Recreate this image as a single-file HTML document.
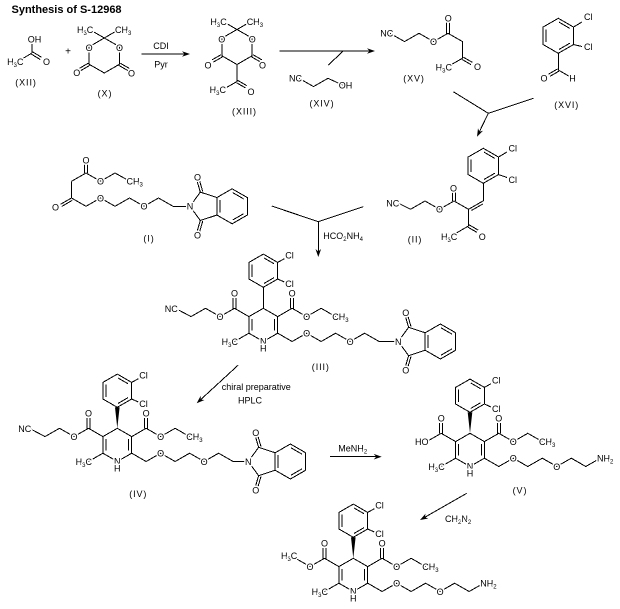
<!DOCTYPE html>
<html><head><meta charset="utf-8"><style>
body{margin:0;background:#fff}
svg{display:block}
.s path,.s polyline,.s polygon,.s line{fill:none;stroke:#000;stroke-width:1;shape-rendering:crispEdges}
.s .f{fill:#000;stroke:none;shape-rendering:auto}
.s text{font-family:"Liberation Sans",Arial,sans-serif;font-size:9px;fill:#000;stroke:#fff;stroke-width:3px;paint-order:stroke;stroke-linejoin:round}
.s .m{text-anchor:middle}
.s .e{text-anchor:end}
.s .lb{letter-spacing:0.9px}
.s .t{font-size:11px;font-weight:bold;stroke:none}
</style></head><body>
<svg class="s" width="620" height="609" viewBox="0 0 620 609" xmlns="http://www.w3.org/2000/svg">
<rect width="620" height="609" fill="#fff"/>
<text class="t" x="11.5" y="13">Synthesis of S-12968</text>

<!-- (XII) acetic acid -->
<path d="M32,53V44M32,53L22,59M31.33,54.11L40.33,59.56M32.67,51.89L41.67,57.34"/>
<text x="27.8" y="42.5">OH</text>
<text class="e" x="23.5" y="65">H<tspan font-size="6" dy="2">3</tspan><tspan dy="-2">C</tspan></text>
<text class="m" x="46.5" y="65">O</text>
<text class="m lb" x="26" y="85.3">(XII)</text>
<text class="m" x="68" y="54.5" style="font-size:10px">+</text>

<!-- (X) Meldrum's acid -->
<polygon points="104.3,38 119.5,46.75 119.5,64.25 104.3,73 89.1,64.25 89.1,46.75"/>
<path d="M104.3,38L91.5,30.6M104.3,38L117,30.6M89.75,65.38L80.65,70.63M88.45,63.12L79.35,68.37M118.85,65.38L127.95,70.63M120.15,63.12L129.25,68.37"/>
<text class="e" x="93.3" y="33">H<tspan font-size="6" dy="2">3</tspan><tspan dy="-2">C</tspan></text>
<text x="115" y="33">CH<tspan font-size="6" dy="2">3</tspan></text>
<text class="m" x="89.1" y="51">O</text><text class="m" x="119.5" y="51">O</text>
<text class="m" x="76.8" y="75.8">O</text><text class="m" x="131.5" y="76.3">O</text>
<text class="m lb" x="105" y="96.3">(X)</text>

<!-- arrow CDI -->
<path d="M141.7,54H185"/>
<polygon class="f" points="190,54 182,51.2 184.5,54 182,56.8"/>
<text class="m" x="161" y="49.2">CDI</text>
<text class="m" x="161" y="67.5">Pyr</text>

<!-- (XIII) -->
<polygon points="237,29.5 252.2,38.25 252.2,55.75 237,64.5 221.8,55.75 221.8,38.25"/>
<path d="M237,29.5L224.5,22.3M237,29.5L249.5,22.3M222.45,56.88L213.35,62.13M221.15,54.62L212.05,59.87M251.55,56.88L260.65,62.13M252.85,54.62L261.95,59.87M237,64.5V81.5L225,88.4M236.35,82.63L245.45,87.88M237.65,80.37L246.75,85.62"/>
<text class="e" x="226.7" y="25">H<tspan font-size="6" dy="2">3</tspan><tspan dy="-2">C</tspan></text>
<text x="246.7" y="25">CH<tspan font-size="6" dy="2">3</tspan></text>
<text class="m" x="221.8" y="42.5">O</text><text class="m" x="252.2" y="42.5">O</text>
<text class="m" x="208" y="68.3">O</text><text class="m" x="262.5" y="68.3">O</text>
<text class="e" x="226" y="93">H<tspan font-size="6" dy="2">3</tspan><tspan dy="-2">C</tspan></text>
<text class="m" x="251" y="95">O</text>
<text class="m lb" x="244.5" y="114.5">(XIII)</text>

<!-- arrow 2 with (XIV) -->
<path d="M279.3,51H370M343.3,51L328.3,65"/>
<polygon class="f" points="375,51 367,48.2 369.5,51 367,53.8"/>
<polyline points="299,78.3 313.5,86.6 328,78.3 342.5,85"/>
<text class="e" x="302" y="81.7">NC</text>
<text x="338.8" y="88.3">OH</text>
<text class="m lb" x="322" y="106.5">(XIV)</text>

<!-- (XV) -->
<polyline points="390,33.3 404.5,41.6 419,33.3 433.5,41.6 448,33.3 462.5,41.6 462.5,58.2 451,64.8"/>
<path d="M446.7,33.3V22.5M449.3,33.3V22.5M461.85,59.33L470.95,64.58M463.15,57.07L472.25,62.32"/>
<text class="e" x="393.3" y="36.6">NC</text>
<text class="m" x="433.5" y="44.9">O</text>
<text class="m" x="448.3" y="21.6">O</text>
<text class="e" x="452" y="70.3">H<tspan font-size="6" dy="2">3</tspan><tspan dy="-2">C</tspan></text>
<text class="m" x="477.5" y="70">O</text>
<text class="m lb" x="414" y="81.7">(XV)</text>

<!-- (XVI) -->
<polygon points="558.3,18.3 573.5,27.05 573.5,44.55 558.3,53.3 543.1,44.55 543.1,27.05"/>
<path d="M546.1,29.5V42.1M558.97,22.15L569.83,28.4M569.83,43.2L558.97,49.45M573.5,27.05L582,22M573.5,44.55L582,46.5M558.3,53.3V70L568.5,75.9M558.95,71.13L549.85,76.38M557.65,68.87L548.55,74.12"/>
<text x="584" y="20">Cl</text><text x="584" y="50">Cl</text>
<text class="m" x="544" y="81.6">O</text><text class="m" x="572.5" y="81.6">H</text>
<text class="m lb" x="566.7" y="108">(XVI)</text>

<!-- converging arrow 1 -->
<path d="M453.3,91.7L488.3,113.3M533.3,98.3L488.3,113.3L479.4,131.7"/>
<polygon class="f" points="477,136.7 483,130.7 479.4,131.75 478,128.3"/>

<!-- (II) -->
<polygon points="483.3,148.3 498.5,157.05 498.5,174.55 483.3,183.3 468.1,174.55 468.1,157.05"/>
<path d="M471.1,159.5V172.1M483.97,152.15L494.83,158.4M494.83,173.2L483.97,179.45M498.5,157.05L507,152M498.5,174.55L507,177.5M483.3,183.3V200.8L468.5,209.3M482.82,203.97L471.48,210.47M468.5,209.3L454,201M452.7,201V192.5M455.3,201V192.5M468.5,209.3V226L455.5,233.5M467.85,227.13L476.95,232.38M469.15,224.87L478.25,230.12"/>
<polyline points="454,201 439.5,209.3 425,201 410.5,209.3 397,202.5"/>
<text x="508.5" y="151.7">Cl</text><text x="508.5" y="183">Cl</text>
<text class="m" x="453.5" y="191.6">O</text>
<text class="m" x="439.5" y="212.6">O</text>
<text class="e" x="399.3" y="206.5">NC</text>
<text class="e" x="457.3" y="240">H<tspan font-size="6" dy="2">3</tspan><tspan dy="-2">C</tspan></text>
<text class="m" x="482.3" y="240">O</text>
<text class="m lb" x="415" y="242.5">(II)</text>

<!-- (I) -->
<path d="M84.5,173V164.5M87.5,173V164.5M71.5,181.3L86,173L100.5,181.3L115,173L128.5,180.5M71.5,181.3V198M71.5,198L60.5,204.3M72.2,200.4L61.8,206.4"/>
<polyline points="71.5,198 86,206.3 100.5,198 115,206.3 129.5,198 144,206.3 158.5,198 173,206.3 190,206.3"/>
<text class="m" x="86" y="163.3">O</text>
<text class="m" x="100.5" y="184.6">O</text>
<text x="126.5" y="184.6">CH<tspan font-size="6" dy="2">3</tspan></text>
<text class="m" x="55.5" y="210.5">O</text>
<text class="m" x="100.5" y="201.3">O</text>
<text class="m" x="144" y="209.6">O</text>
<g transform="translate(190,206.3)">
<path d="M0,0L10.3,-14.2L26.9,-8.75V8.75L10.3,14.2Z M10.3,-14.2L7.3,-24.5M12.7,-14.9L9.7,-25.2M10.3,14.2L7.3,24.5M12.7,14.9L9.7,25.2M29.9,-6.3V6.3M42.77,-13.65L53.63,-7.4M53.63,7.4L42.77,13.65"/>
<polygon points="26.9,-8.75 42.1,-17.5 57.3,-8.75 57.3,8.75 42.1,17.5 26.9,8.75"/>
<text class="m" x="0" y="3.3">N</text><text class="m" x="7.5" y="-25.6">O</text><text class="m" x="7.5" y="32">O</text>
</g>
<text class="m lb" x="149" y="241.5">(I)</text>

<!-- converging arrow 2 -->
<path d="M271.7,206L318.3,221.7M363.3,206.7L318.3,221.7V252"/>
<polygon class="f" points="318.3,257 315.5,249 318.3,251.5 321.1,249"/>
<text x="323.3" y="239">HCO<tspan font-size="6" dy="2">2</tspan><tspan dy="-2">NH</tspan><tspan font-size="6" dy="2">4</tspan></text>

<!-- (III) -->
<g transform="translate(263.3,308.3)">
<polygon points="0,-21 14.4,-29.3 14.4,-45.9 0,-54.2 -14.4,-45.9 -14.4,-29.3"/>
<path d="M-11.4,-31.5V-43.7M0.7,-50.35L10.7,-44.55M10.7,-30.65L0.7,-24.85M14.4,-45.9L21,-49.6M14.4,-29.3L21,-26.3"/>
<polygon points="0,0 14.4,8.3 14.4,24.9 0,33.2 -14.4,24.9 -14.4,8.3"/>
<path d="M11.4,10.8V22.4M-11.4,10.8V22.4M-14.4,24.9L-28.8,33.2M14.4,8.3L28.8,0L43.3,8.3L57.8,0L72.3,8.3M27.3,0V-10.5M30.3,0V-10.5M-14.4,8.3L-28.8,0L-43.3,8.3M-30.3,0V-10.5M-27.3,0V-10.5"/>
<polyline points="14.4,24.9 28.8,33.2 43.3,24.9 57.8,33.2 72.3,24.9 86.8,33.2 101.3,24.9 115.8,33.2 135,33.2"/>
<path d="M0,0V-21"/>
<polyline points="-43.3,8.3 -57.8,0 -72.3,8.3 -87,0.5"/>
<text x="22" y="-49.8">Cl</text><text x="22" y="-21.3">Cl</text>
<text class="m" x="0" y="36">N</text><text class="m" x="0" y="43">H</text>
<text class="e" x="-25.3" y="36.5">H<tspan font-size="6" dy="2">3</tspan><tspan dy="-2">C</tspan></text>
<text class="m" x="28.8" y="-11.8">O</text><text class="m" x="-28.8" y="-11.8">O</text>
<text class="m" x="43.3" y="11.6">O</text>
<text x="69" y="11.6">CH<tspan font-size="6" dy="2">3</tspan></text>
<text class="m" x="43.3" y="28.2">O</text><text class="m" x="86.8" y="36.5">O</text>
<text class="m" x="-43.3" y="11.6">O</text>
<text class="e" x="-85.5" y="3.6">NC</text>
<g transform="translate(135,33.2)">
<path d="M0,0L10.3,-14.2L26.9,-8.75V8.75L10.3,14.2Z M10.3,-14.2L7.3,-24.5M12.7,-14.9L9.7,-25.2M10.3,14.2L7.3,24.5M12.7,14.9L9.7,25.2M29.9,-6.3V6.3M42.77,-13.65L53.63,-7.4M53.63,7.4L42.77,13.65"/>
<polygon points="26.9,-8.75 42.1,-17.5 57.3,-8.75 57.3,8.75 42.1,17.5 26.9,8.75"/>
<text class="m" x="0" y="3.3">N</text><text class="m" x="7.5" y="-25.6">O</text><text class="m" x="7.5" y="32">O</text>
</g>
</g>
<text class="m lb" x="320.8" y="370">(III)</text>

<!-- chiral HPLC arrow -->
<path d="M238.3,365L200.7,399.6"/>
<polygon class="f" points="196.7,403.3 204.5,400 200.75,399.6 200.7,395.8"/>
<text x="221.7" y="390">chiral preparative</text>
<text class="m" x="250" y="403.3">HPLC</text>

<!-- (IV) -->
<g transform="translate(117.3,428.3)">
<polygon points="0,-21 14.4,-29.3 14.4,-45.9 0,-54.2 -14.4,-45.9 -14.4,-29.3"/>
<path d="M-11.4,-31.5V-43.7M0.7,-50.35L10.7,-44.55M10.7,-30.65L0.7,-24.85M14.4,-45.9L21,-49.6M14.4,-29.3L21,-26.3"/>
<polygon points="0,0 14.4,8.3 14.4,24.9 0,33.2 -14.4,24.9 -14.4,8.3"/>
<path d="M11.4,10.8V22.4M-11.4,10.8V22.4M-14.4,24.9L-28.8,33.2M14.4,8.3L28.8,0L43.3,8.3L57.8,0L72.3,8.3M27.3,0V-10.5M30.3,0V-10.5M-14.4,8.3L-28.8,0L-43.3,8.3M-30.3,0V-10.5M-27.3,0V-10.5"/>
<polyline points="14.4,24.9 28.8,33.2 43.3,24.9 57.8,33.2 72.3,24.9 86.8,33.2 101.3,24.9 115.8,33.2 131,33.2"/>
<polygon class="f" points="0,0 -2.3,-21 2.3,-21"/>
<polyline points="-43.3,8.3 -57.8,0 -72.3,8.3 -87,0.5"/>
<text x="22" y="-49.8">Cl</text><text x="22" y="-21.3">Cl</text>
<text class="m" x="0" y="36">N</text><text class="m" x="0" y="43">H</text>
<text class="e" x="-25.3" y="36.5">H<tspan font-size="6" dy="2">3</tspan><tspan dy="-2">C</tspan></text>
<text class="m" x="28.8" y="-11.8">O</text><text class="m" x="-28.8" y="-11.8">O</text>
<text class="m" x="43.3" y="11.6">O</text>
<text x="69" y="11.6">CH<tspan font-size="6" dy="2">3</tspan></text>
<text class="m" x="43.3" y="28.2">O</text><text class="m" x="86.8" y="36.5">O</text>
<text class="m" x="-43.3" y="11.6">O</text>
<text class="e" x="-86" y="3.6">NC</text>
<g transform="translate(131,33.2)">
<path d="M0,0L10.3,-14.2L26.9,-8.75V8.75L10.3,14.2Z M10.3,-14.2L7.3,-24.5M12.7,-14.9L9.7,-25.2M10.3,14.2L7.3,24.5M12.7,14.9L9.7,25.2M29.9,-6.3V6.3M42.77,-13.65L53.63,-7.4M53.63,7.4L42.77,13.65"/>
<polygon points="26.9,-8.75 42.1,-17.5 57.3,-8.75 57.3,8.75 42.1,17.5 26.9,8.75"/>
<text class="m" x="0" y="3.3">N</text><text class="m" x="7.5" y="-25.6">O</text><text class="m" x="7.5" y="32">O</text>
</g>
</g>
<text class="m lb" x="138.3" y="497">(IV)</text>

<!-- MeNH2 arrow -->
<path d="M330,456.7H377"/>
<polygon class="f" points="381.7,456.7 373.7,453.9 376.2,456.7 373.7,459.5"/>
<text x="338.3" y="451.7">MeNH<tspan font-size="6" dy="2">2</tspan></text>

<!-- (V) -->
<g transform="translate(470,433.3)">
<polygon points="0,-21 14.4,-29.3 14.4,-45.9 0,-54.2 -14.4,-45.9 -14.4,-29.3"/>
<path d="M-11.4,-31.5V-43.7M0.7,-50.35L10.7,-44.55M10.7,-30.65L0.7,-24.85M14.4,-45.9L21,-49.6M14.4,-29.3L21,-26.3"/>
<polygon points="0,0 14.4,8.3 14.4,24.9 0,33.2 -14.4,24.9 -14.4,8.3"/>
<path d="M11.4,10.8V22.4M-11.4,10.8V22.4M-14.4,24.9L-28.8,33.2M14.4,8.3L28.8,0L43.3,8.3L57.8,0L72.3,8.3M27.3,0V-10.5M30.3,0V-10.5M-14.4,8.3L-28.8,0L-43.3,8.3M-30.3,0V-10.5M-27.3,0V-10.5"/>
<polyline points="14.4,24.9 28.8,33.2 43.3,24.9 57.8,33.2 72.3,24.9 86.8,33.2 101.3,24.9 115.8,33.2 130.3,24.9"/>
<polygon class="f" points="0,0 -2.3,-21 2.3,-21"/>
<text x="22" y="-49.8">Cl</text><text x="22" y="-21.3">Cl</text>
<text class="m" x="0" y="36">N</text><text class="m" x="0" y="43">H</text>
<text class="e" x="-25.3" y="36.5">H<tspan font-size="6" dy="2">3</tspan><tspan dy="-2">C</tspan></text>
<text class="m" x="28.8" y="-11.8">O</text><text class="m" x="-28.8" y="-11.8">O</text>
<text class="m" x="43.3" y="11.6">O</text>
<text x="69" y="11.6">CH<tspan font-size="6" dy="2">3</tspan></text>
<text class="m" x="43.3" y="28.2">O</text><text class="m" x="86.8" y="36.5">O</text>
<text class="e" x="-41.5" y="11.6">HO</text>
<text x="127" y="28.2">NH<tspan font-size="6" dy="2">2</tspan></text>
</g>
<text class="m lb" x="520" y="493.3">(V)</text>

<!-- CH2N2 arrow -->
<path d="M466.7,493.3L424.8,517.3"/>
<polygon class="f" points="420,520 428.3,518.5 424.8,517.3 425.6,513.6"/>
<text x="445" y="522">CH<tspan font-size="6" dy="2">2</tspan><tspan dy="-2">N</tspan><tspan font-size="6" dy="2">2</tspan></text>

<!-- final product -->
<g transform="translate(353.3,558.3)">
<polygon points="0,-21 14.4,-29.3 14.4,-45.9 0,-54.2 -14.4,-45.9 -14.4,-29.3"/>
<path d="M-11.4,-31.5V-43.7M0.7,-50.35L10.7,-44.55M10.7,-30.65L0.7,-24.85M14.4,-45.9L21,-49.6M14.4,-29.3L21,-26.3"/>
<polygon points="0,0 14.4,8.3 14.4,24.9 0,33.2 -14.4,24.9 -14.4,8.3"/>
<path d="M11.4,10.8V22.4M-11.4,10.8V22.4M-14.4,24.9L-28.8,33.2M14.4,8.3L28.8,0L43.3,8.3L57.8,0L72.3,8.3M27.3,0V-10.5M30.3,0V-10.5M-14.4,8.3L-28.8,0L-43.3,8.3M-30.3,0V-10.5M-27.3,0V-10.5"/>
<polyline points="14.4,24.9 28.8,33.2 43.3,24.9 57.8,33.2 72.3,24.9 86.8,33.2 101.3,24.9 115.8,33.2 130.3,24.9"/>
<polygon class="f" points="0,0 -2.3,-21 2.3,-21"/>
<path d="M-43.3,8.3L-57.8,0"/>
<text x="22" y="-49.8">Cl</text><text x="22" y="-21.3">Cl</text>
<text class="m" x="0" y="36">N</text><text class="m" x="0" y="43">H</text>
<text class="e" x="-25.3" y="36.5">H<tspan font-size="6" dy="2">3</tspan><tspan dy="-2">C</tspan></text>
<text class="m" x="28.8" y="-11.8">O</text><text class="m" x="-28.8" y="-11.8">O</text>
<text class="m" x="43.3" y="11.6">O</text>
<text x="69" y="11.6">CH<tspan font-size="6" dy="2">3</tspan></text>
<text class="m" x="43.3" y="28.2">O</text><text class="m" x="86.8" y="36.5">O</text>
<text class="m" x="-43.3" y="11.6">O</text>
<text class="e" x="-56" y="0.5">H<tspan font-size="6" dy="2">3</tspan><tspan dy="-2">C</tspan></text>
<text x="127" y="28.2">NH<tspan font-size="6" dy="2">2</tspan></text>
</g>
</svg>
</body></html>
